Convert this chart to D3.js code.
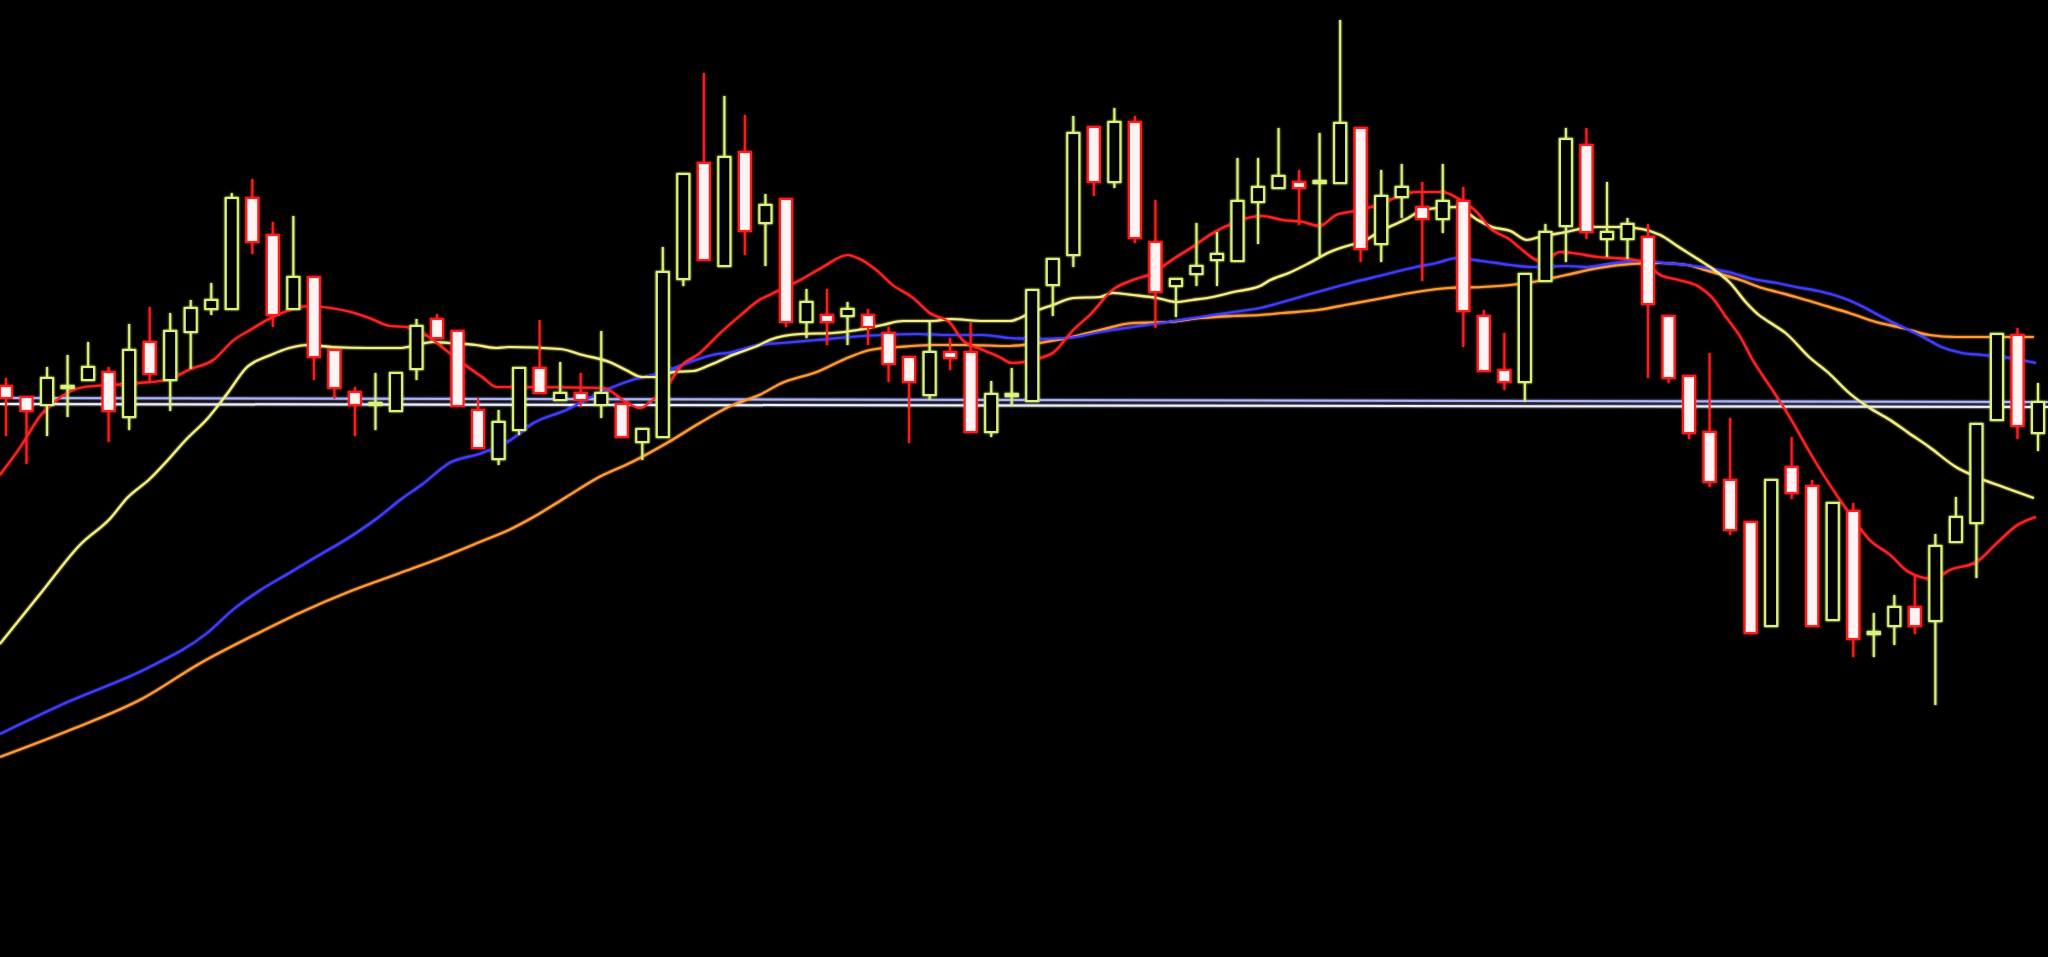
<!DOCTYPE html>
<html>
<head>
<meta charset="utf-8">
<script src="https://cdn.jsdelivr.net/npm/d3@7"></script>
<style>
    html, body { margin: 0; padding: 0; background: #000; overflow: hidden; }
    svg { display: block; }
</style>
</head>
<body>
<div id="chart"></div>
<script>
// candle data (one entry per session)
var open  = [8.64, 8.53, 8.45, 8.62, 8.70, 8.78, 8.33, 9.08, 8.70, 9.18,
             9.41, 9.41, 10.52, 10.15, 9.41, 9.73, 9.00, 8.58, 8.45, 8.39,
             8.81, 9.31, 9.19, 8.40, 7.91, 8.20, 8.82, 8.50, 8.57, 8.45,
             8.46, 8.08, 8.13, 9.71, 10.87, 9.84, 10.98, 10.27, 10.51, 9.28,
             9.35, 9.34, 9.35, 9.17, 8.93, 8.55, 8.98, 8.98, 8.18, 8.54,
             8.49, 9.65, 9.95, 11.23, 10.68, 11.28, 10.08, 9.64, 9.76, 9.90,
             9.89, 10.48, 10.62, 10.68, 10.67, 10.67, 11.22, 10.06, 10.53, 10.43,
             10.31, 10.49, 9.34, 8.80, 8.68, 9.69, 10.24, 11.05, 10.11, 10.11,
             10.13, 9.34, 8.74, 8.18, 7.70, 7.28, 6.24, 7.83, 7.64, 6.30,
             7.39, 6.16, 6.24, 6.43, 6.29, 7.08, 7.27, 8.30, 9.15, 8.17];
var high  = [8.72, 8.53, 8.83, 8.95, 9.08, 8.83, 9.26, 9.43, 9.37, 9.50,
             9.67, 10.57, 10.71, 10.28, 10.34, 9.73, 9.00, 8.63, 8.77, 8.77,
             9.31, 9.36, 9.19, 8.52, 8.40, 8.82, 9.30, 8.88, 8.77, 9.19,
             8.47, 8.21, 10.03, 10.76, 11.77, 11.54, 11.35, 10.56, 10.51, 9.61,
             9.61, 9.48, 9.41, 9.23, 8.93, 9.28, 9.12, 9.27, 8.69, 8.82,
             9.60, 9.91, 11.34, 11.23, 11.42, 11.34, 10.50, 9.71, 10.27, 10.18,
             10.92, 10.92, 11.22, 10.80, 11.17, 12.30, 11.22, 10.80, 10.86, 10.68,
             10.86, 10.63, 9.40, 9.17, 9.76, 10.26, 11.22, 11.22, 10.68, 10.32,
             10.26, 9.34, 8.74, 8.97, 8.32, 7.28, 7.70, 8.13, 7.70, 7.47,
             7.47, 6.37, 6.55, 6.74, 7.16, 7.53, 8.26, 9.17, 9.22, 8.67];
var low   = [8.14, 7.86, 8.14, 8.33, 8.70, 8.08, 8.20, 8.69, 8.39, 8.81,
             9.35, 9.41, 9.96, 9.23, 9.41, 8.70, 8.51, 8.14, 8.20, 8.39,
             8.70, 9.12, 8.44, 8.02, 7.85, 8.15, 8.57, 8.50, 8.43, 8.32,
             8.13, 7.90, 8.13, 9.64, 9.90, 9.84, 9.95, 9.84, 9.23, 9.12,
             9.05, 9.05, 9.05, 8.68, 8.07, 8.50, 8.80, 8.18, 8.13, 8.44,
             8.49, 9.34, 9.83, 10.54, 10.62, 10.07, 9.22, 9.33, 9.64, 9.64,
             9.89, 10.06, 10.62, 10.25, 9.94, 10.67, 9.88, 9.88, 10.32, 9.69,
             10.17, 9.03, 8.79, 8.60, 8.48, 9.69, 9.88, 10.11, 9.93, 9.91,
             8.72, 8.67, 8.11, 7.63, 7.15, 6.17, 6.24, 7.51, 6.24, 6.30,
             5.93, 5.93, 6.05, 6.16, 5.45, 7.08, 6.72, 8.30, 8.11, 7.99];
var close = [8.52, 8.39, 8.72, 8.64, 8.83, 8.39, 9.00, 8.76, 9.19, 9.42,
             9.50, 10.52, 10.08, 9.35, 9.73, 8.93, 8.62, 8.45, 8.47, 8.77,
             9.24, 9.12, 8.44, 8.02, 8.28, 8.82, 8.57, 8.57, 8.50, 8.57,
             8.13, 8.21, 9.78, 10.76, 9.90, 10.93, 10.19, 10.45, 9.28, 9.48,
             9.28, 9.41, 9.23, 8.86, 8.68, 8.98, 8.92, 8.18, 8.56, 8.56,
             9.60, 9.91, 11.17, 10.68, 11.28, 10.12, 9.58, 9.71, 9.84, 9.96,
             10.49, 10.63, 10.74, 10.62, 10.69, 11.27, 10.01, 10.54, 10.63, 10.31,
             10.49, 9.39, 8.79, 8.68, 9.76, 10.18, 11.11, 10.18, 10.18, 10.26,
             9.46, 8.72, 8.17, 7.68, 7.20, 6.17, 7.70, 7.57, 6.24, 7.47,
             6.11, 6.18, 6.43, 6.24, 7.04, 7.33, 8.26, 9.16, 8.24, 8.48];

// moving averages, sampled as [session index, value]
var ma5 = [[-0.3, 7.75], [0.7, 8.03], [1.7, 8.35], [2.6, 8.52], [3.8, 8.63], [5.1, 8.65],
           [6.5, 8.67], [7.8, 8.70], [9.0, 8.81], [10.1, 8.90], [11.1, 9.10], [11.9, 9.20],
           [12.9, 9.32], [14.8, 9.44], [15.8, 9.42], [16.8, 9.38], [17.7, 9.32], [18.7, 9.24],
           [19.5, 9.23], [20.3, 9.17], [21.0, 9.07], [21.6, 8.97], [22.3, 8.86], [23.2, 8.73],
           [23.9, 8.63], [24.5, 8.63], [29.1, 8.62], [30.2, 8.48], [30.9, 8.42], [31.5, 8.50],
           [32.2, 8.63], [32.8, 8.82], [33.8, 8.97], [34.8, 9.17], [35.8, 9.35], [36.7, 9.50],
           [37.2, 9.55], [38.7, 9.70], [39.8, 9.83], [41.0, 9.95], [41.6, 9.91], [42.4, 9.80],
           [43.2, 9.65], [44.2, 9.52], [45.0, 9.37], [46.0, 9.27], [46.6, 9.10], [47.6, 9.00],
           [48.4, 8.93], [49.0, 8.87], [50.4, 8.92], [51.0, 8.97], [52.0, 9.20], [52.9, 9.37],
           [53.9, 9.60], [54.9, 9.70], [55.9, 9.77], [56.8, 9.90], [57.8, 10.03], [58.8, 10.17],
           [59.8, 10.27], [60.7, 10.33], [61.2, 10.34], [62.2, 10.30], [63.2, 10.28], [64.0, 10.24],
           [64.8, 10.35], [66.0, 10.40], [66.8, 10.45], [67.8, 10.53], [68.7, 10.58], [70.0, 10.58],
           [70.7, 10.52], [71.7, 10.37], [72.3, 10.22], [73.3, 10.10], [73.7, 10.03], [74.9, 9.88],
           [75.7, 9.98], [76.3, 9.97], [77.6, 9.93], [79.0, 9.91], [79.9, 9.87], [80.6, 9.75],
           [81.5, 9.70], [82.5, 9.63], [83.1, 9.53], [83.8, 9.33], [84.5, 9.13], [85.1, 8.90],
           [85.9, 8.65], [86.9, 8.33], [87.9, 7.97], [88.8, 7.67], [89.8, 7.37], [90.8, 7.10],
           [91.8, 6.95], [92.7, 6.78], [93.9, 6.71], [94.7, 6.80], [96.0, 6.88], [97.0, 7.07],
           [98.0, 7.25], [98.9, 7.33]];
var ma10 = [[-0.3, 6.06], [1.7, 6.57], [3.6, 7.05], [5.1, 7.32], [5.9, 7.52], [7.0, 7.71],
            [7.8, 7.88], [8.8, 8.11], [9.8, 8.31], [10.8, 8.57], [11.7, 8.82], [12.9, 8.95],
            [13.8, 9.02], [14.7, 9.05], [15.9, 9.03], [17.6, 9.02], [19.2, 9.02], [20.0, 9.05],
            [20.8, 9.08], [21.6, 9.07], [22.9, 9.05], [23.9, 9.02], [24.5, 9.03], [27.0, 9.01],
            [28.1, 8.95], [29.4, 8.88], [30.2, 8.80], [31.0, 8.73], [31.9, 8.73], [32.5, 8.78],
            [33.5, 8.79], [34.3, 8.85], [35.4, 8.95], [36.7, 9.05], [37.2, 9.10], [38.7, 9.16],
            [40.3, 9.17], [41.5, 9.20], [42.7, 9.25], [43.7, 9.29], [45.2, 9.29], [46.0, 9.31],
            [47.6, 9.29], [48.9, 9.29], [50.0, 9.38], [51.0, 9.45], [52.0, 9.52], [53.3, 9.53],
            [53.9, 9.57], [54.9, 9.55], [56.1, 9.52], [57.0, 9.48], [57.8, 9.50], [58.8, 9.53],
            [59.8, 9.58], [61.1, 9.64], [61.6, 9.70], [62.5, 9.77], [63.5, 9.87], [64.5, 9.98],
            [65.5, 10.05], [66.1, 10.08], [66.8, 10.17], [67.6, 10.25], [68.4, 10.33], [68.7, 10.37],
            [69.7, 10.42], [70.7, 10.43], [71.7, 10.30], [72.4, 10.23], [73.3, 10.19], [74.1, 10.10],
            [74.7, 10.13], [76.0, 10.18], [77.3, 10.23], [78.6, 10.23], [79.7, 10.21], [80.6, 10.15],
            [81.5, 10.03], [82.5, 9.90], [83.1, 9.82], [84.0, 9.67], [84.8, 9.47], [85.4, 9.35],
            [85.9, 9.28], [86.7, 9.17], [87.9, 8.92], [88.8, 8.77], [89.8, 8.57], [90.8, 8.42],
            [91.8, 8.30], [92.7, 8.17], [93.7, 8.03], [95.0, 7.83], [96.0, 7.73], [97.3, 7.63],
            [98.8, 7.52]];
var ma30 = [[-0.3, 5.16], [3.0, 5.48], [6.9, 5.82], [9.8, 6.17], [11.1, 6.41], [12.4, 6.60],
            [13.8, 6.77], [15.1, 6.93], [16.6, 7.11], [18.1, 7.32], [19.2, 7.50], [20.3, 7.66],
            [21.6, 7.87], [23.2, 7.97], [24.5, 8.09], [25.7, 8.27], [27.3, 8.40], [28.9, 8.57],
            [30.5, 8.70], [31.9, 8.77], [33.2, 8.87], [34.4, 8.95], [35.4, 8.98], [36.7, 9.05],
            [37.8, 9.07], [39.5, 9.10], [41.1, 9.13], [42.7, 9.15], [44.4, 9.16], [46.0, 9.15],
            [47.6, 9.15], [48.9, 9.12], [50.0, 9.11], [51.7, 9.12], [53.3, 9.18], [54.9, 9.23],
            [56.6, 9.28], [58.2, 9.33], [59.8, 9.38], [61.1, 9.42], [62.2, 9.48], [63.9, 9.58],
            [65.5, 9.67], [67.1, 9.75], [68.7, 9.83], [69.7, 9.87], [70.7, 9.92], [71.9, 9.89],
            [73.3, 9.85], [74.4, 9.83], [76.0, 9.84], [77.0, 9.83], [78.3, 9.87], [79.6, 9.89],
            [80.9, 9.87], [81.9, 9.85], [83.1, 9.81], [84.1, 9.77], [85.1, 9.71], [86.3, 9.67],
            [87.2, 9.63], [88.5, 9.58], [89.5, 9.52], [90.5, 9.43], [91.4, 9.33], [92.4, 9.23],
            [93.4, 9.13], [94.3, 9.03], [95.3, 8.97], [96.3, 8.95], [97.6, 8.92], [98.9, 8.87]];
var ma60 = [[-0.3, 4.93], [3.0, 5.19], [6.7, 5.52], [9.4, 5.86], [12.4, 6.18], [14.3, 6.37],
            [16.8, 6.59], [19.2, 6.77], [21.3, 6.93], [23.2, 7.09], [24.5, 7.20], [25.7, 7.33],
            [27.3, 7.53], [28.9, 7.73], [30.5, 7.88], [32.2, 8.07], [33.8, 8.27], [35.4, 8.45],
            [36.7, 8.55], [37.8, 8.67], [39.5, 8.78], [41.1, 8.93], [42.1, 9.00], [43.5, 9.03],
            [45.2, 9.05], [46.8, 9.05], [48.9, 9.04], [50.0, 9.06], [51.7, 9.12], [53.3, 9.20],
            [54.9, 9.27], [56.6, 9.28], [58.2, 9.32], [59.8, 9.34], [61.1, 9.35], [62.2, 9.37],
            [63.9, 9.40], [65.5, 9.46], [67.1, 9.52], [68.7, 9.58], [70.3, 9.62], [71.9, 9.63],
            [73.3, 9.65], [74.4, 9.68], [76.0, 9.75], [77.6, 9.82], [79.2, 9.86], [80.6, 9.87],
            [81.9, 9.85], [83.1, 9.78], [84.5, 9.70], [85.4, 9.63], [86.3, 9.58], [87.2, 9.53],
            [88.5, 9.45], [89.8, 9.37], [91.1, 9.28], [92.4, 9.22], [93.7, 9.15], [95.0, 9.13],
            [96.3, 9.13], [97.6, 9.13], [98.8, 9.13]];

// two hand drawn support lines: [value at left edge, value at right edge]
var supportLines = [[8.52, 8.48], [8.46, 8.43]];

var svgWidth = 2048;
var svgHeight = 957;

var svg = d3.select("#chart")
    .append("svg")
    .attr("width", svgWidth)
    .attr("height", svgHeight)
    .style("background", "#000");

// soft glow, the original is a photo of a CRT-ish screen
var glow = svg.append("defs")
    .append("filter")
    .attr("id", "glow")
    .attr("x", "-20%").attr("y", "-20%")
    .attr("width", "140%").attr("height", "140%");
glow.append("feGaussianBlur")
    .attr("stdDeviation", 1.3)
    .attr("result", "blur");
var merge = glow.append("feMerge");
merge.append("feMergeNode").attr("in", "blur");
merge.append("feMergeNode").attr("in", "SourceGraphic");

var plot = svg.append("g").attr("filter", "url(#glow)");

// scales
var xScale = d3.scaleLinear()
    .domain([0, open.length - 1])
    .range([6, 2038]);

var yScale = d3.scaleLinear()
    .domain([2.93, 12.5])
    .range([svgHeight, 0]);

var candleW = 12;

// support lines
var supportColors = ["#aeb4ff", "#eef0ff"];
plot.selectAll("line.support")
    .data(supportLines)
    .enter()
    .append("line")
    .attr("class", "support")
    .attr("x1", xScale(-0.3))
    .attr("x2", xScale(99.5))
    .attr("y1", d => yScale(d[0]))
    .attr("y2", d => yScale(d[1]))
    .attr("stroke", (d, i) => supportColors[i])
    .attr("stroke-width", 2);

// moving average lines
var line = d3.line()
    .x(d => xScale(d[0]))
    .y(d => yScale(d[1]))
    .curve(d3.curveMonotoneX);

var maSeries = [
    { values: ma60, color: "#ff9a36" },
    { values: ma30, color: "#3f3dff" },
    { values: ma10, color: "#f4ef82" },
    { values: ma5,  color: "#ff2424" }
];

plot.selectAll("path.ma")
    .data(maSeries)
    .enter()
    .append("path")
    .attr("class", "ma")
    .attr("d", d => line(d.values))
    .attr("fill", "none")
    .attr("stroke", d => d.color)
    .attr("stroke-width", 2.2);

// candles
var candles = open.map((o, i) => ({
    i: i,
    open: o,
    high: high[i],
    low: low[i],
    close: close[i],
    up: close[i] >= o
}));

var upColor = "#d8f27c";
var downColor = "#ff1e1e";

var candleGroup = plot.selectAll("g.candle")
    .data(candles)
    .enter()
    .append("g")
    .attr("class", "candle");

// upper wick
candleGroup.append("line")
    .attr("x1", d => xScale(d.i))
    .attr("x2", d => xScale(d.i))
    .attr("y1", d => yScale(d.high))
    .attr("y2", d => yScale(Math.max(d.open, d.close)))
    .attr("stroke", d => d.up ? upColor : downColor)
    .attr("stroke-width", 2);

// lower wick
candleGroup.append("line")
    .attr("x1", d => xScale(d.i))
    .attr("x2", d => xScale(d.i))
    .attr("y1", d => yScale(Math.min(d.open, d.close)))
    .attr("y2", d => yScale(d.low))
    .attr("stroke", d => d.up ? upColor : downColor)
    .attr("stroke-width", 2);

// body: hollow for rising sessions, white filled for falling ones
candleGroup.append("rect")
    .attr("x", d => xScale(d.i) - candleW / 2)
    .attr("y", d => yScale(Math.max(d.open, d.close)))
    .attr("width", candleW)
    .attr("height", d => Math.max(1, yScale(Math.min(d.open, d.close)) - yScale(Math.max(d.open, d.close))))
    .attr("fill", d => d.up ? "#000" : "#fff4f4")
    .attr("stroke", d => d.up ? upColor : downColor)
    .attr("stroke-width", 2.2);
</script>
</body>
</html>
